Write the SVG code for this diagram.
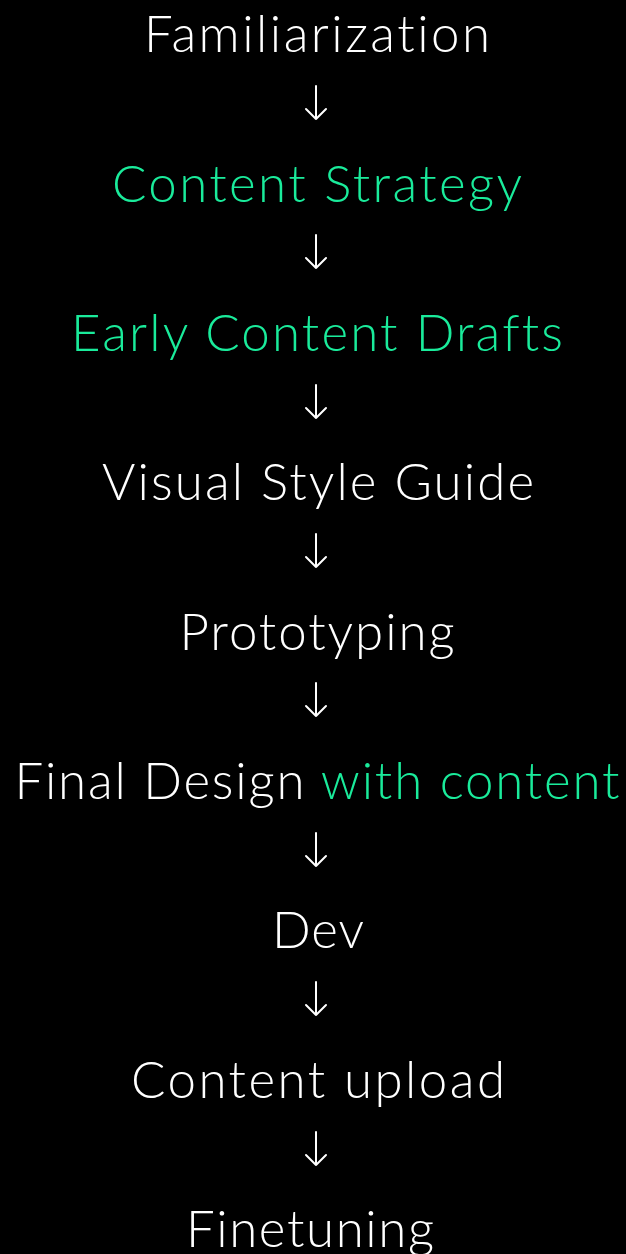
<svg xmlns="http://www.w3.org/2000/svg" width="626" height="1254" viewBox="0 0 626 1254">
  <style>
    .step { font-family: "Lato", "Liberation Sans", sans-serif; font-weight: 300; font-size: 51px; fill: #ffffff; text-anchor: middle; font-variant-ligatures: none; }
    .accent { fill: #1aeb9b; }
    .flow { stroke: #ffffff; stroke-width: 2; fill: none; stroke-linecap: round; stroke-linejoin: round; }
  </style>
  <rect width="626" height="1254" fill="#000000"/>

  <g id="connectors">
    <path class="flow" d="M316 86 V119 M306 109 L316 119 L326 109"/>
    <path class="flow" d="M316 235 V268 M306 258 L316 268 L326 258"/>
    <path class="flow" d="M316 385 V418 M306 408 L316 418 L326 408"/>
    <path class="flow" d="M316 534 V567 M306 557 L316 567 L326 557"/>
    <path class="flow" d="M316 683 V716 M306 706 L316 716 L326 706"/>
    <path class="flow" d="M316 833 V866 M306 856 L316 866 L326 856"/>
    <path class="flow" d="M316 982 V1015 M306 1005 L316 1015 L326 1005"/>
    <path class="flow" d="M316 1132 V1165 M306 1155 L316 1165 L326 1155"/>
  </g>

  <g id="familiarization"><text class="step" x="317" y="52" textLength="346" lengthAdjust="spacing">Familiarization</text></g>
  <g id="content-strategy"><text class="step accent" x="317" y="202" textLength="410" lengthAdjust="spacing">Content Strategy</text></g>
  <g id="early-content-drafts"><text class="step accent" x="317" y="351" textLength="492" lengthAdjust="spacing">Early Content Drafts</text></g>
  <g id="visual-style-guide"><text class="step" x="318" y="500" textLength="432" lengthAdjust="spacing">Visual Style Guide</text></g>
  <g id="prototyping"><text class="step" x="317" y="650" textLength="275" lengthAdjust="spacing">Prototyping</text></g>
  <g id="final-design"><text class="step" x="317" y="799" textLength="605" lengthAdjust="spacing">Final Design <tspan class="accent">with content</tspan></text></g>
  <g id="dev"><text class="step" x="318" y="948" textLength="92" lengthAdjust="spacing">Dev</text></g>
  <g id="content-upload"><text class="step" x="318" y="1098" textLength="374" lengthAdjust="spacing">Content upload</text></g>
  <g id="finetuning"><text class="step" x="310" y="1247" textLength="248" lengthAdjust="spacing">Finetuning</text></g>
</svg>
